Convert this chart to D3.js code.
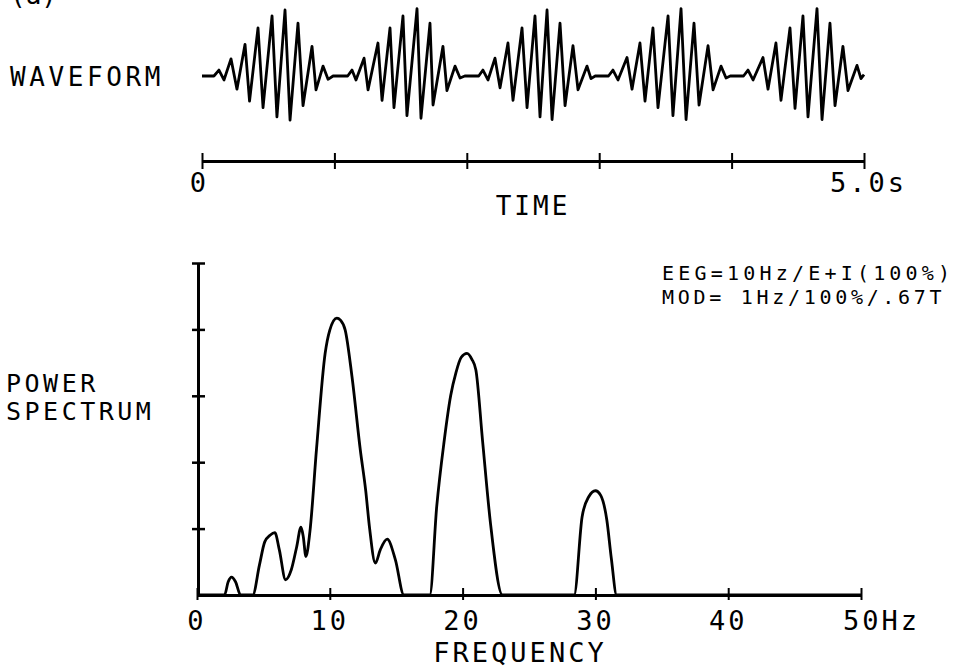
<!DOCTYPE html>
<html>
<head>
<meta charset="utf-8">
<script src="https://cdn.jsdelivr.net/npm/d3@7"></script>
<style>
  body { margin: 0; background: #fff; }
  svg { display: block; }
  text { font-family: "DejaVu Sans Mono", monospace; fill: #000; }
</style>
</head>
<body>
<div id="chart"></div>
<script>
// waveform extrema (seconds, relative amplitude)
var waveTime = [
  0.00, 0.09, 0.128, 0.166, 0.219, 0.264, 0.325, 0.359, 0.423, 0.461, 0.529, 0.566, 0.627, 0.665, 0.725, 0.763, 0.831, 0.861, 0.914, 0.952, 0.99,
  1.10, 1.133, 1.163, 1.224, 1.254, 1.329, 1.360, 1.420, 1.450, 1.518, 1.548, 1.624, 1.654, 1.722, 1.745, 1.820, 1.850, 1.911, 1.949, 1.985,
  2.09, 2.122, 2.160, 2.213, 2.251, 2.311, 2.349, 2.417, 2.455, 2.515, 2.553, 2.606, 2.644, 2.704, 2.742, 2.802, 2.840, 2.908, 2.938, 2.97,
  3.07, 3.104, 3.142, 3.210, 3.248, 3.308, 3.346, 3.406, 3.444, 3.520, 3.557, 3.618, 3.656, 3.716, 3.754, 3.822, 3.860, 3.920, 3.958, 3.99,
  4.09, 4.124, 4.162, 4.237, 4.275, 4.335, 4.373, 4.441, 4.479, 4.539, 4.577, 4.645, 4.683, 4.743, 4.781, 4.841, 4.879, 4.947, 4.977, 5.0
]
var waveAmp = [
  0, 0, 0.09, -0.06, 0.26, -0.20, 0.48, -0.38, 0.73, -0.48, 0.91, -0.62, 1.00, -0.67, 0.80, -0.45, 0.45, -0.21, 0.15, -0.05, 0,
  0, 0.09, -0.06, 0.27, -0.21, 0.50, -0.37, 0.73, -0.48, 0.91, -0.60, 1.02, -0.64, 0.80, -0.44, 0.45, -0.22, 0.15, -0.03, 0,
  0, 0.09, -0.06, 0.27, -0.18, 0.50, -0.37, 0.73, -0.48, 0.91, -0.62, 1.00, -0.66, 0.80, -0.45, 0.46, -0.21, 0.15, -0.04, 0,
  0, 0.09, -0.06, 0.28, -0.20, 0.50, -0.38, 0.73, -0.48, 0.91, -0.60, 1.02, -0.66, 0.80, -0.44, 0.46, -0.21, 0.15, -0.03, 0,
  0, 0.09, -0.06, 0.28, -0.20, 0.50, -0.37, 0.73, -0.49, 0.91, -0.62, 1.02, -0.66, 0.80, -0.45, 0.45, -0.22, 0.16, -0.04, 0.02
]
var timeTicks = [0, 1, 2, 3, 4, 5]

// power spectrum (Hz, arbitrary units)
var freq = [
  0, 2.07, 2.35, 2.6, 2.9, 3.28,
  4.2, 4.7, 5.1, 5.5, 5.86, 6.2, 6.67, 7.1, 7.5, 7.83, 8.0, 8.2, 8.5, 9.0, 9.65, 10.0, 10.53, 10.8, 11.16, 11.67, 12.3, 12.7, 13.0, 13.43, 13.8, 14.32, 14.94, 15.58,
  17.53, 18.05, 18.6, 19.1, 19.5, 19.9, 20.33, 20.7, 21.0, 21.5, 22.1, 23.0,
  28.4, 29.0, 29.5, 30.0, 30.4, 30.86, 31.2, 31.6, 50
]
var power = [
  0, 0, 0.2, 0.27, 0.2, 0,
  0, 0.45, 0.80, 0.9, 0.94, 0.68, 0.23, 0.38, 0.72, 1.02, 0.88, 0.58, 0.95, 2.2, 3.64, 3.99, 4.17, 4.14, 3.99, 3.29, 2.18, 1.58, 1.0, 0.48, 0.68, 0.84, 0.53, 0,
  0, 1.33, 2.3, 3.0, 3.35, 3.58, 3.64, 3.55, 3.39, 2.33, 1.08, 0,
  0, 1.18, 1.48, 1.57, 1.5, 1.13, 0.55, 0, 0
]
var freqTicks = [0, 10, 20, 30, 40, 50]
var freqLabels = ["0", "10", "20", "30", "40", "50Hz"]
var powerTicks = [1, 2, 3, 4, 5]

var W = 964, H = 671

var svg = d3.select("#chart").append("svg")
    .attr("width", W)
    .attr("height", H)

svg.append("rect").attr("width", W).attr("height", H).attr("fill", "#fff")

// ---- top panel: waveform ----
var tScale = d3.scaleLinear().domain([0, 5]).range([202, 864])
var aScale = d3.scaleLinear().domain([-1, 1]).range([142, 10])

var wave = d3.range(waveTime.length).map(function(i) {
  return [waveTime[i], waveAmp[i]]
})

svg.append("path")
    .datum(wave)
    .attr("fill", "none")
    .attr("stroke", "#000")
    .attr("stroke-width", 2.8)
    .attr("stroke-linejoin", "round")
    .attr("d", d3.line()
      .x(function(d) { return tScale(d[0]) })
      .y(function(d) { return aScale(d[1]) }))

var timeAxis = svg.append("g")
    .attr("transform", "translate(0,161)")
    .call(d3.axisBottom(tScale).tickValues(timeTicks).tickSizeOuter(0).tickSize(0).tickFormat(""))

timeAxis.select(".domain").attr("stroke", "#000").attr("stroke-width", 3)
timeAxis.selectAll(".tick line")
    .attr("stroke", "#000").attr("stroke-width", 2)
    .attr("y1", -8).attr("y2", 8)

svg.append("text").text("0")
    .attr("x", 198).attr("y", 192)
    .attr("text-anchor", "middle")
    .attr("font-size", "27px")
svg.append("text").text("5.0s")
    .attr("x", 830).attr("y", 192)
    .attr("font-size", "27px")
    .attr("letter-spacing", "3px")
svg.append("text").text("TIME")
    .attr("x", 533).attr("y", 215)
    .attr("text-anchor", "middle")
    .attr("font-size", "26px")
    .attr("letter-spacing", "3px")

svg.append("text").text("WAVEFORM")
    .attr("x", 10).attr("y", 86)
    .attr("font-size", "26px")
    .attr("letter-spacing", "3.6px")

svg.append("text").text("(a)")
    .attr("x", 10).attr("y", 4)
    .attr("font-size", "26px")

// ---- bottom panel: power spectrum ----
var fScale = d3.scaleLinear().domain([0, 50]).range([197, 861])
var pScale = d3.scaleLinear().domain([0, 5]).range([595, 263])

var spec = d3.range(freq.length).map(function(i) {
  return [freq[i], power[i]]
})

var xAxis = svg.append("g")
    .attr("transform", "translate(0,595)")
    .call(d3.axisBottom(fScale).tickValues(freqTicks).tickSizeOuter(0).tickSize(0).tickFormat(""))

xAxis.select(".domain").attr("stroke", "#000").attr("stroke-width", 3)
xAxis.selectAll(".tick line")
    .attr("stroke", "#000").attr("stroke-width", 2)
    .attr("y1", -7).attr("y2", 5)

var yAxis = svg.append("g")
    .attr("transform", "translate(198,0)")
    .call(d3.axisLeft(pScale).tickValues(powerTicks).tickSizeOuter(0).tickSize(0).tickFormat(""))

yAxis.select(".domain").attr("stroke", "#000").attr("stroke-width", 3)
yAxis.selectAll(".tick line")
    .attr("stroke", "#000").attr("stroke-width", 2.5)
    .attr("x1", -6).attr("x2", 7)

svg.append("path")
    .datum(spec)
    .attr("fill", "none")
    .attr("stroke", "#000")
    .attr("stroke-width", 2.8)
    .attr("stroke-linejoin", "round")
    .attr("d", d3.line()
      .curve(d3.curveMonotoneX)
      .x(function(d) { return fScale(d[0]) })
      .y(function(d) { return pScale(d[1]) }))

svg.selectAll(".flabel")
    .data(freqTicks)
    .enter().append("text")
    .attr("class", "flabel")
    .text(function(d, i) { return freqLabels[i] })
    .attr("x", function(d, i) { return i == freqTicks.length - 1 ? fScale(d) - 18 : fScale(d) })
    .attr("y", 630)
    .attr("text-anchor", function(d, i) { return i == freqTicks.length - 1 ? "start" : "middle" })
    .attr("font-size", "27px")
    .attr("letter-spacing", "3px")

svg.append("text").text("FREQUENCY")
    .attr("x", 520).attr("y", 662)
    .attr("text-anchor", "middle")
    .attr("font-size", "27px")
    .attr("letter-spacing", "3px")

svg.append("text").text("POWER")
    .attr("x", 6).attr("y", 392)
    .attr("font-size", "25px")
    .attr("letter-spacing", "3.5px")
svg.append("text").text("SPECTRUM")
    .attr("x", 6).attr("y", 420)
    .attr("font-size", "25px")
    .attr("letter-spacing", "3.5px")

// run parameters, top right
svg.append("text").text("EEG=10Hz/E+I(100%)")
    .attr("x", 662).attr("y", 280)
    .attr("font-size", "20px")
    .attr("letter-spacing", "4.2px")
svg.append("text").text("MOD= 1Hz/100%/.67T")
    .attr("x", 662).attr("y", 304)
    .attr("font-size", "20px")
    .attr("letter-spacing", "3.7px")
</script>
</body>
</html>
